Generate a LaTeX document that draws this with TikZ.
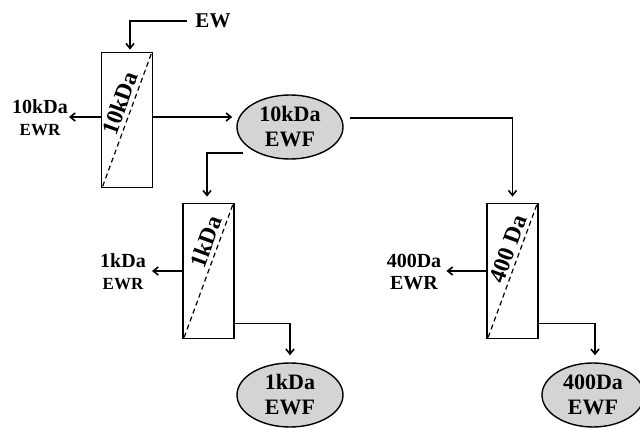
\documentclass[tikz,border=0pt]{standalone}
\usepackage{fontspec}
\setmainfont{Liberation Serif}
\usetikzlibrary{shapes.geometric,arrows.meta}
\begin{document}
\begin{tikzpicture}[x=1pt,y=-1pt,
 filt/.style={draw,line width=1.7pt,minimum width=51pt,minimum height=135pt,inner sep=0pt},
 prod/.style={draw,line width=1.4pt,ellipse,fill=black!17,minimum width=106pt,minimum height=64pt,inner sep=0pt,align=center,font=\bfseries\fontsize{22}{25}\selectfont},
 flow/.style={line width=1.6pt,-{Straight Barb[length=5pt,width=8pt]}},
 memb/.style={line width=1.2pt,dash pattern=on 5pt off 3.5pt},
 mlab/.style={font=\bfseries\fontsize{23.5}{24}\selectfont,rotate=70,inner sep=0pt},
 lab/.style={font=\bfseries\fontsize{20}{22}\selectfont,align=center,inner sep=1pt}
]
\useasboundingbox (0,0) rectangle (640,430);
% filters
\node[filt] (b1) at (127,120) {};
\node[filt] (b2) at (208.5,271) {};
\node[filt] (b3) at (512.5,271) {};
\draw[memb] ([shift={(2,-2)}]b1.south west) -- ([shift={(-2,2)}]b1.north east);
\draw[memb] ([shift={(2,-2)}]b2.south west) -- ([shift={(-2,2)}]b2.north east);
\draw[memb] ([shift={(2,-2)}]b3.south west) -- ([shift={(-2,2)}]b3.north east);
\node[mlab] (m1) at (120,103) {10kDa};
\node[mlab] (m2) at (206,242) {1kDa};
\node[mlab] (m3) at (508,249) {400 Da};
% products
\node[prod] (e1) at (290,127) {10kDa\\EWF};
\node[prod] (e2) at (290,395) {1kDa\\EWF};
\node[prod,minimum width=102pt] (e3) at (593,395) {400Da\\EWF};
% labels
\node[font=\bfseries\fontsize{21}{24}\selectfont] (ew) at (213,21) {EW};
\node[lab] (r1) at (40,118) {10kDa\\{\fontsize{17}{20}\selectfont EWR}};
\node[lab] (r2) at (123,272) {1kDa\\{\fontsize{17}{20}\selectfont EWR}};
\node[lab] (r3) at (414,272) {400Da\\EWR};
\coordinate (s1) at (243,153);
\coordinate (s2) at (350,118);
% connectors
\draw[flow,shorten <=5pt,shorten >=2pt] (ew.west) -| ([xshift=3pt]b1.north);
\draw[flow] ([yshift=3pt]b1.west) -- ([yshift=3pt]b1.west -| r1.east);
\draw[flow,shorten >=4pt] ([yshift=3pt]b1.east) -- ([yshift=3pt]b1.east -| e1.west);
\draw[flow,shorten >=6pt] (s1) -| ([xshift=-1.5pt]b2.north);
\draw[flow,shorten >=6pt] (s2) -| (b3.north);
\draw[flow,shorten >=5pt] (b2.west) -- (b2.west -| r2.east);
\draw[flow,shorten >=4pt] (b3.west) -- (b3.west -| r3.east);
\draw[flow,shorten >=7pt] ([yshift=16pt]b2.south east) -| (e2.north);
\draw[flow,shorten >=7pt] ([yshift=16pt]b3.south east) -| ([xshift=2pt]e3.north);
\end{tikzpicture}
\end{document}
